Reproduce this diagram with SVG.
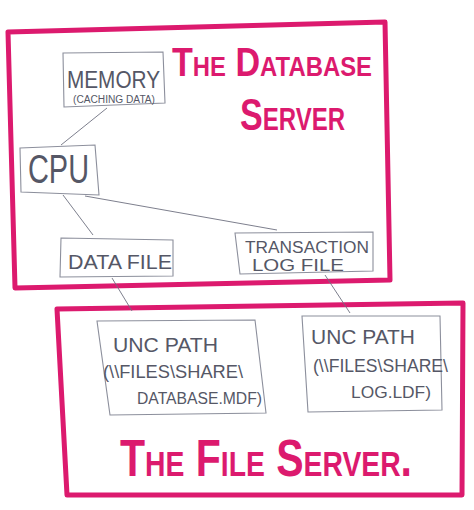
<svg xmlns="http://www.w3.org/2000/svg" width="474" height="510" viewBox="0 0 474 510">
<style>
.frame{fill:none;stroke:#dc1a6e;stroke-width:5;stroke-linejoin:round}
.box{fill:none;stroke:#8c8f9c;stroke-width:1.1}
.lbl{font-family:"Liberation Sans",Arial,sans-serif;fill:#555766;font-weight:300}
.title{font-family:"Liberation Sans",Arial,sans-serif;fill:#dc1a6e;font-weight:bold;font-variant:small-caps}
.conn{stroke:#6e7080;stroke-width:0.9;fill:none}
</style>
<rect width="474" height="510" fill="#fff"/>
<g id="database-server">
<polygon class="frame" points="8,32 385,22 390,280 15,288"/>
<text class="title" x="172" y="76" font-size="40" textLength="200" lengthAdjust="spacingAndGlyphs">The Database</text>
<text class="title" x="240" y="130" font-size="44" textLength="105" lengthAdjust="spacingAndGlyphs">Server</text>
</g>
<g id="file-server">
<polygon class="frame" points="57,309 463,303 462,495 67,495"/>
<text class="title" transform="translate(120,476) scale(1,1.3)" x="0" y="0" font-size="40" textLength="292" lengthAdjust="spacingAndGlyphs">The File Server.</text>
</g>
<g id="connectors">
<line class="conn" x1="107" y1="108" x2="61" y2="145"/>
<line class="conn" x1="63" y1="195" x2="93" y2="235"/>
<line class="conn" x1="85" y1="196" x2="277" y2="230"/>
<line class="conn" x1="112" y1="278" x2="132" y2="311"/>
<line class="conn" x1="325" y1="275" x2="350" y2="313"/>
</g>
<g id="memory">
<polygon class="box" points="63,53 163,52 165,103 64,107"/>
<text class="lbl" x="67" y="88" font-size="23" textLength="93" lengthAdjust="spacingAndGlyphs">MEMORY</text>
<text class="lbl" x="73" y="103" font-size="10" textLength="82" lengthAdjust="spacingAndGlyphs">(CACHING DATA)</text>
</g>
<g id="cpu">
<polygon class="box" points="20,148 95,145 99,195 21,192"/>
<text class="lbl" x="28" y="183" font-size="40" textLength="61" lengthAdjust="spacingAndGlyphs">CPU</text>
</g>
<g id="data-file">
<polygon class="box" points="61,238 173,240 173,276 60,277"/>
<text class="lbl" x="68" y="269" font-size="20" textLength="104" lengthAdjust="spacingAndGlyphs">DATA FILE</text>
</g>
<g id="transaction-log">
<polygon class="box" points="235,233 373,232 373,271 240,274"/>
<text class="lbl" x="245" y="253" font-size="16" textLength="124" lengthAdjust="spacingAndGlyphs">TRANSACTION</text>
<text class="lbl" x="252" y="271" font-size="16" textLength="92" lengthAdjust="spacingAndGlyphs">LOG FILE</text>
</g>
<g id="unc-data">
<polygon class="box" points="97,321 255,320 266,413 110,415"/>
<text class="lbl" x="113" y="352" font-size="21" textLength="105" lengthAdjust="spacingAndGlyphs">UNC PATH</text>
<text class="lbl" x="103" y="378" font-size="18" textLength="140" lengthAdjust="spacingAndGlyphs">(\\FILES\SHARE\</text>
<text class="lbl" x="137" y="404" font-size="16" textLength="125" lengthAdjust="spacingAndGlyphs">DATABASE.MDF)</text>
</g>
<g id="unc-log">
<polygon class="box" points="302,316 440,316 442,410 308,412"/>
<text class="lbl" x="311" y="344" font-size="21" textLength="104" lengthAdjust="spacingAndGlyphs">UNC PATH</text>
<text class="lbl" x="313" y="372" font-size="18" textLength="135" lengthAdjust="spacingAndGlyphs">(\\FILES\SHARE\</text>
<text class="lbl" x="351" y="398" font-size="17" textLength="80" lengthAdjust="spacingAndGlyphs">LOG.LDF)</text>
</g>
</svg>
